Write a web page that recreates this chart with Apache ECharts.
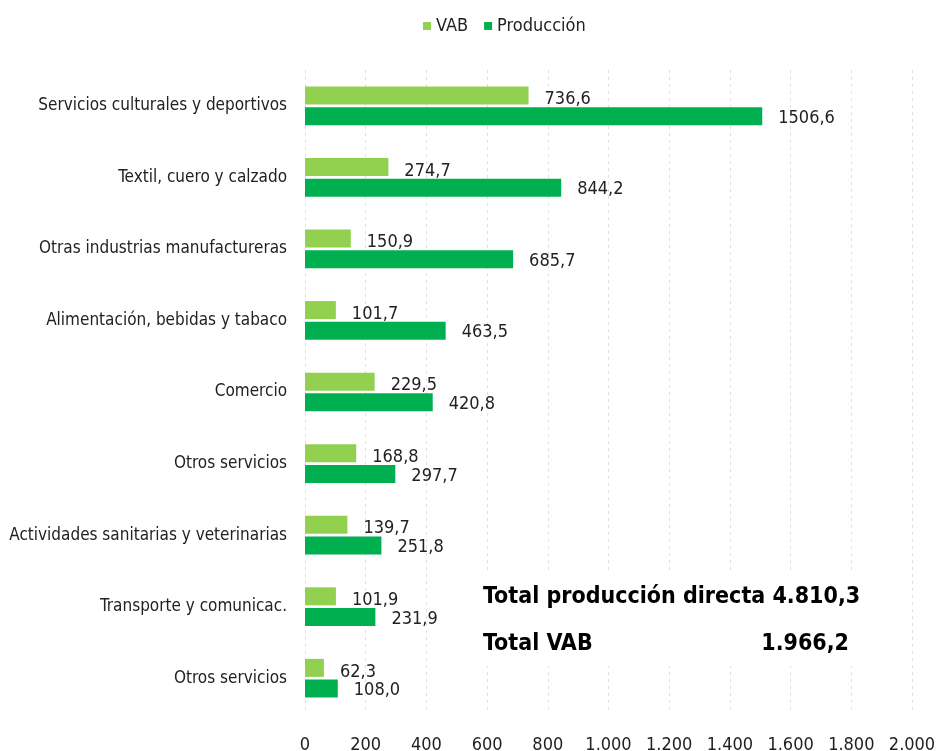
<!DOCTYPE html>
<html>
<head>
<meta charset="utf-8">
<script src="https://cdn.jsdelivr.net/npm/echarts@6/dist/echarts.min.js"></script>
<style>
  html, body { margin: 0; padding: 0; background: #fff; }
  #chart { width: 938px; height: 751px; }
</style>
</head>
<body>
<div id="chart"></div>
<script>
'use strict';

// categorías, de arriba a abajo
const categories = [
    'Servicios culturales y deportivos',
    'Textil, cuero y calzado',
    'Otras industrias manufactureras',
    'Alimentación, bebidas y tabaco',
    'Comercio',
    'Otros servicios',
    'Actividades sanitarias y veterinarias',
    'Transporte y comunicac.',
    'Otros servicios'
];
const vab = [736.6, 274.7, 150.9, 101.7, 229.5, 168.8, 139.7, 101.9, 62.3];
const produccion = [1506.6, 844.2, 685.7, 463.5, 420.8, 297.7, 251.8, 231.9, 108.0];
const totalProduccion = '4.810,3';
const totalVab = '1.966,2';

const font = '"Liberation Sans Narrow", "DejaVu Sans Condensed", "Liberation Sans", sans-serif';
const boldFont = '"DejaVu Sans Condensed", "Liberation Sans", sans-serif';

// 1234,5 -> "1234,5" ; eje: 1000 -> "1.000"
const fmtDec = v => v.toFixed(1).replace('.', ',');
const fmtAxis = v => String(v).replace(/\B(?=(\d{3})+(?!\d))/g, '.');

let chart = echarts.init(document.getElementById('chart'));

let option = {
    animation: false,
    textStyle: { fontFamily: font },
    legend: {
        top: 12,
        left: 418,
        itemWidth: 8,
        itemHeight: 8,
        itemGap: 16,
        icon: 'rect',
        textStyle: { fontSize: 18, color: '#222', fontFamily: font },
        data: ['VAB', 'Producción']
    },
    grid: { left: 305, right: 26, top: 70, bottom: 37, outerBoundsMode: 'none', containLabel: false },
    xAxis: {
        type: 'value',
        min: 0,
        max: 2000,
        interval: 200,
        axisLine: { show: false },
        axisTick: { show: false },
        axisLabel: {
            fontSize: 18, color: '#222', margin: 22, fontFamily: font,
            formatter: fmtAxis
        },
        splitLine: { show: true, lineStyle: { color: '#e0e0e0', type: [3, 4] } }
    },
    yAxis: {
        type: 'category',
        inverse: true,
        data: categories,
        axisLine: { show: false },
        axisTick: { show: false },
        axisLabel: { fontSize: 17, color: '#222', margin: 18, fontFamily: font }
    },
    series: [
        {
            name: 'VAB',
            type: 'bar',
            data: vab,
            barWidth: 18,
            barGap: '15%',
            itemStyle: { color: '#92D050' },
            label: {
                show: true, position: 'right', distance: 16,
                fontSize: 18, color: '#222', fontFamily: font, offset: [0, 4],
                formatter: p => fmtDec(p.value)
            }
        },
        {
            name: 'Producción',
            type: 'bar',
            data: produccion,
            barWidth: 18,
            barGap: '15%',
            itemStyle: { color: '#00B050' },
            label: {
                show: true, position: 'right', distance: 16,
                fontSize: 18, color: '#222', fontFamily: font, offset: [0, 2],
                formatter: p => fmtDec(p.value)
            }
        }
    ],
    graphic: [
        {
            type: 'rect', left: 474, top: 574, z: 10,
            shape: { width: 398, height: 92 },
            style: { fill: '#fff' }
        },
        {
            type: 'text', left: 483, top: 586, z: 11,
            style: { text: 'Total producción directa ' + totalProduccion, fontSize: 23, fontWeight: 'bold', fill: '#000', fontFamily: boldFont }
        },
        {
            type: 'text', left: 483, top: 633, z: 11,
            style: { text: 'Total VAB', fontSize: 23, fontWeight: 'bold', fill: '#000', fontFamily: boldFont }
        },
        {
            type: 'text', right: 89, top: 633, z: 11,
            style: { text: totalVab, fontSize: 23, fontWeight: 'bold', fill: '#000', fontFamily: boldFont }
        }
    ]
};

chart.setOption(option);
</script>
</body>
</html>
